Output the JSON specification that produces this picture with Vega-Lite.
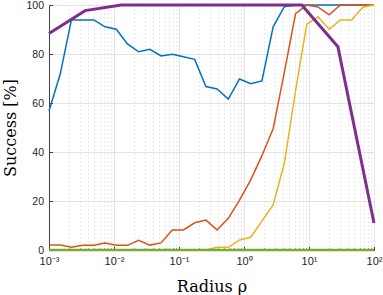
{
  "$schema": "https://vega.github.io/schema/vega-lite/v6.json",
  "width": 325,
  "height": 245,
  "autosize": {"type": "none"},
  "padding": {"left": 49, "top": 5, "right": 9, "bottom": 45},
  "config": {
    "view": {"stroke": null},
    "axis": {
      "labelFont": "Liberation Sans",
      "labelFontSize": 10,
      "labelColor": "#262626",
      "titleFont": "DejaVu Serif",
      "titleFontSize": 16,
      "titleFontWeight": "normal",
      "titleColor": "#000000",
      "domainColor": "#404040",
      "tickColor": "#404040",
      "gridColor": "#e3e3e3",
      "gridOpacity": 1
    }
  },
  "datasets": {
    "lines": [
      {"s": "blue", "x": 0.001, "y": 56.7}, {"s": "blue", "x": 0.0014874, "y": 71.8}, {"s": "blue", "x": 0.0022122, "y": 93.9}, {"s": "blue", "x": 0.0032903, "y": 93.9}, {"s": "blue", "x": 0.0048939, "y": 93.9}, {"s": "blue", "x": 0.007279, "y": 91.1}, {"s": "blue", "x": 0.010826, "y": 90.1}, {"s": "blue", "x": 0.016103, "y": 84.1}, {"s": "blue", "x": 0.02395, "y": 80.9}, {"s": "blue", "x": 0.035622, "y": 81.9}, {"s": "blue", "x": 0.052983, "y": 79.2}, {"s": "blue", "x": 0.078805, "y": 79.9}, {"s": "blue", "x": 0.11721, "y": 78.9}, {"s": "blue", "x": 0.17433, "y": 77.8}, {"s": "blue", "x": 0.25929, "y": 66.7}, {"s": "blue", "x": 0.38566, "y": 65.7}, {"s": "blue", "x": 0.57362, "y": 61.6}, {"s": "blue", "x": 0.85317, "y": 69.8}, {"s": "blue", "x": 1.269, "y": 67.9}, {"s": "blue", "x": 1.8874, "y": 69.0}, {"s": "blue", "x": 2.8072, "y": 91.1}, {"s": "blue", "x": 4.1753, "y": 99.3}, {"s": "blue", "x": 6.2102, "y": 100}, {"s": "blue", "x": 9.2367, "y": 100}, {"s": "blue", "x": 13.738, "y": 100}, {"s": "blue", "x": 20.434, "y": 100}, {"s": "blue", "x": 30.392, "y": 100}, {"s": "blue", "x": 45.204, "y": 100}, {"s": "blue", "x": 67.234, "y": 100}, {"s": "blue", "x": 100, "y": 100},
      {"s": "orange", "x": 0.001, "y": 2.0}, {"s": "orange", "x": 0.0014874, "y": 2.0}, {"s": "orange", "x": 0.0022122, "y": 1.1}, {"s": "orange", "x": 0.0032903, "y": 1.9}, {"s": "orange", "x": 0.0048939, "y": 1.9}, {"s": "orange", "x": 0.007279, "y": 2.9}, {"s": "orange", "x": 0.010826, "y": 1.9}, {"s": "orange", "x": 0.016103, "y": 1.9}, {"s": "orange", "x": 0.02395, "y": 4.0}, {"s": "orange", "x": 0.035622, "y": 2.0}, {"s": "orange", "x": 0.052983, "y": 2.9}, {"s": "orange", "x": 0.078805, "y": 8.2}, {"s": "orange", "x": 0.11721, "y": 8.2}, {"s": "orange", "x": 0.17433, "y": 11.1}, {"s": "orange", "x": 0.25929, "y": 12.2}, {"s": "orange", "x": 0.38566, "y": 8.2}, {"s": "orange", "x": 0.57362, "y": 12.9}, {"s": "orange", "x": 0.85317, "y": 20.4}, {"s": "orange", "x": 1.269, "y": 28.6}, {"s": "orange", "x": 1.8874, "y": 38.5}, {"s": "orange", "x": 2.8072, "y": 49.5}, {"s": "orange", "x": 4.1753, "y": 72.5}, {"s": "orange", "x": 6.2102, "y": 96.5}, {"s": "orange", "x": 9.2367, "y": 100}, {"s": "orange", "x": 13.738, "y": 99.2}, {"s": "orange", "x": 20.434, "y": 96.0}, {"s": "orange", "x": 30.392, "y": 100}, {"s": "orange", "x": 45.204, "y": 100}, {"s": "orange", "x": 67.234, "y": 100}, {"s": "orange", "x": 100, "y": 100},
      {"s": "yellow", "x": 0.001, "y": 0}, {"s": "yellow", "x": 0.0014874, "y": 0}, {"s": "yellow", "x": 0.0022122, "y": 0}, {"s": "yellow", "x": 0.0032903, "y": 0}, {"s": "yellow", "x": 0.0048939, "y": 0}, {"s": "yellow", "x": 0.007279, "y": 0}, {"s": "yellow", "x": 0.010826, "y": 0}, {"s": "yellow", "x": 0.016103, "y": 0}, {"s": "yellow", "x": 0.02395, "y": 0}, {"s": "yellow", "x": 0.035622, "y": 0}, {"s": "yellow", "x": 0.052983, "y": 0}, {"s": "yellow", "x": 0.078805, "y": 0}, {"s": "yellow", "x": 0.11721, "y": 0}, {"s": "yellow", "x": 0.17433, "y": 0}, {"s": "yellow", "x": 0.25929, "y": 0}, {"s": "yellow", "x": 0.38566, "y": 1.1}, {"s": "yellow", "x": 0.57362, "y": 1.1}, {"s": "yellow", "x": 0.85317, "y": 4.1}, {"s": "yellow", "x": 1.269, "y": 5.2}, {"s": "yellow", "x": 1.8874, "y": 11.8}, {"s": "yellow", "x": 2.8072, "y": 18.4}, {"s": "yellow", "x": 4.1753, "y": 35.4}, {"s": "yellow", "x": 6.2102, "y": 65.0}, {"s": "yellow", "x": 9.2367, "y": 92.2}, {"s": "yellow", "x": 13.738, "y": 95.2}, {"s": "yellow", "x": 20.434, "y": 90.1}, {"s": "yellow", "x": 30.392, "y": 93.9}, {"s": "yellow", "x": 45.204, "y": 93.9}, {"s": "yellow", "x": 67.234, "y": 99.1}, {"s": "yellow", "x": 100, "y": 100},
      {"s": "purple", "x": 0.001, "y": 88.4}, {"s": "purple", "x": 0.0035938, "y": 97.7}, {"s": "purple", "x": 0.012915, "y": 100}, {"s": "purple", "x": 0.046416, "y": 100}, {"s": "purple", "x": 0.16681, "y": 100}, {"s": "purple", "x": 0.59948, "y": 100}, {"s": "purple", "x": 2.1544, "y": 100}, {"s": "purple", "x": 7.7426, "y": 100}, {"s": "purple", "x": 27.826, "y": 83.0}, {"s": "purple", "x": 100, "y": 11.0},
      {"s": "green", "x": 0.001, "y": 0}, {"s": "green", "x": 0.0014874, "y": 0}, {"s": "green", "x": 0.0022122, "y": 0}, {"s": "green", "x": 0.0032903, "y": 0}, {"s": "green", "x": 0.0048939, "y": 0}, {"s": "green", "x": 0.007279, "y": 0}, {"s": "green", "x": 0.010826, "y": 0}, {"s": "green", "x": 0.016103, "y": 0}, {"s": "green", "x": 0.02395, "y": 0}, {"s": "green", "x": 0.035622, "y": 0}, {"s": "green", "x": 0.052983, "y": 0}, {"s": "green", "x": 0.078805, "y": 0}, {"s": "green", "x": 0.11721, "y": 0}, {"s": "green", "x": 0.17433, "y": 0}, {"s": "green", "x": 0.25929, "y": 0}, {"s": "green", "x": 0.38566, "y": 0}, {"s": "green", "x": 0.57362, "y": 0}, {"s": "green", "x": 0.85317, "y": 0}, {"s": "green", "x": 1.269, "y": 0}, {"s": "green", "x": 1.8874, "y": 0}, {"s": "green", "x": 2.8072, "y": 0}, {"s": "green", "x": 4.1753, "y": 0}, {"s": "green", "x": 6.2102, "y": 0}, {"s": "green", "x": 9.2367, "y": 0}, {"s": "green", "x": 13.738, "y": 0}, {"s": "green", "x": 20.434, "y": 0}, {"s": "green", "x": 30.392, "y": 0}, {"s": "green", "x": 45.204, "y": 0}, {"s": "green", "x": 67.234, "y": 0}, {"s": "green", "x": 100, "y": 0}
    ]
  },
  "data": {"name": "lines"},
  "encoding": {
    "x": {
      "field": "x",
      "type": "quantitative",
      "scale": {"type": "log", "domain": [0.001, 100], "nice": false},
      "axis": {
        "title": "Radius ρ",
        "values": [0.001, 0.002, 0.003, 0.004, 0.005, 0.006, 0.007, 0.008, 0.009, 0.01, 0.02, 0.03, 0.04, 0.05, 0.06, 0.07, 0.08, 0.09, 0.1, 0.2, 0.3, 0.4, 0.5, 0.6, 0.7, 0.8, 0.9, 1, 2, 3, 4, 5, 6, 7, 8, 9, 10, 20, 30, 40, 50, 60, 70, 80, 90, 100],
        "labelExpr": "abs(log(datum.value)/LN10 - round(log(datum.value)/LN10)) < 0.01 ? ['10⁻³','10⁻²','10⁻¹','10⁰','10¹','10²'][round(log(datum.value)/LN10) + 3] : ''",
        "labelOverlap": false,
        "labelFlush": false,
        "labelPadding": 9,
        "labelFontSize": 11,
        "titlePadding": 10,
        "tickSize": {"condition": {"test": "abs(log(datum.value)/LN10 - round(log(datum.value)/LN10)) > 0.01", "value": -2}, "value": -3.5},
        "gridDash": {"condition": {"test": "abs(log(datum.value)/LN10 - round(log(datum.value)/LN10)) > 0.01", "value": [1, 3]}, "value": []},
        "gridColor": {"condition": {"test": "abs(log(datum.value)/LN10 - round(log(datum.value)/LN10)) > 0.01", "value": "#d2d2d2"}, "value": "#e3e3e3"}
      }
    },
    "y": {
      "field": "y",
      "type": "quantitative",
      "scale": {"domain": [0, 100], "nice": false},
      "axis": {
        "title": "Success [%]",
        "values": [0, 20, 40, 60, 80, 100],
        "tickSize": -3.5,
        "labelPadding": 9,
        "labelFontSize": 10.5,
        "titlePadding": 7
      }
    }
  },
  "layer": [
    {"transform": [{"filter": "datum.s == 'blue'"}], "mark": {"type": "line", "color": "#0072BD", "strokeWidth": 1.5}},
    {"transform": [{"filter": "datum.s == 'orange'"}], "mark": {"type": "line", "color": "#D95319", "strokeWidth": 1.5}},
    {"transform": [{"filter": "datum.s == 'yellow'"}], "mark": {"type": "line", "color": "#EDB120", "strokeWidth": 1.5}},
    {"transform": [{"filter": "datum.s == 'purple'"}], "mark": {"type": "line", "color": "#7E2F8E", "strokeWidth": 3}},
    {"transform": [{"filter": "datum.s == 'green'"}], "mark": {"type": "line", "color": "#77AC30", "strokeWidth": 2.5}}
  ]
}
